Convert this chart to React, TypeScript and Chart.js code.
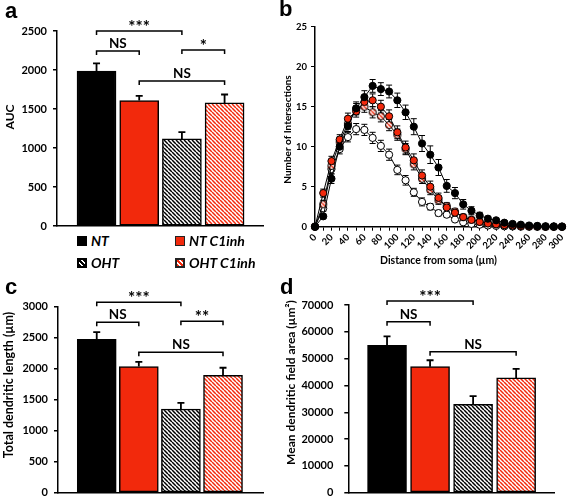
import React, { useEffect, useRef } from 'react';
import { Chart, registerables } from 'chart.js';

Chart.register(...registerables);

// ---------- data ----------
const GROUPS = ['NT', 'NT C1inh', 'OHT', 'OHT C1inh'];

const AUC_VALUES = [1985, 1608, 1116, 1578];
const AUC_ERRORS = [100, 60, 87, 108];
const LENGTH_VALUES = [2475, 2035, 1350, 1895];
const LENGTH_ERRORS = [115, 75, 100, 120];
const AREA_VALUES = [55000, 47000, 33000, 42800];
const AREA_ERRORS = [3300, 2400, 3000, 3400];

// [from group, to group, level, label]
const AUC_BRACKETS: [number, number, number, string][] = [
  [0, 2, 2500, '***'], [0, 1, 2244, 'NS'], [2, 3, 2256, '*'], [1, 3, 1859, 'NS'],
];
const LENGTH_BRACKETS: [number, number, number, string][] = [
  [0, 2, 3071, '***'], [0, 1, 2748, 'NS'], [2, 3, 2764, '**'], [1, 3, 2264, 'NS'],
];
const AREA_BRACKETS: [number, number, number, string][] = [
  [0, 2, 71500, '***'], [0, 1, 63770, 'NS'], [1, 3, 52580, 'NS'],
];

const DISTANCE = [0, 10, 20, 30, 40, 50, 60, 70, 80, 90, 100, 110, 120, 130, 140, 150, 160, 170, 180, 190, 200, 210, 220, 230, 240, 250, 260, 270, 280, 290, 300];
const SHOLL_NT = [0, 1.3, 6.0, 10.0, 12.6, 14.8, 16.2, 17.6, 17.2, 16.9, 15.8, 14.3, 12.5, 10.4, 9.0, 7.4, 5.1, 4.2, 2.8, 2.0, 1.4, 1.0, 0.8, 0.5, 0.35, 0.25, 0.15, 0.1, 0.05, 0.03, 0];
const SHOLL_NT_ERR = [0, 0.3, 0.6, 0.6, 0.7, 0.8, 0.8, 0.8, 0.8, 0.8, 0.9, 0.9, 1.0, 1.0, 1.1, 1.0, 0.8, 0.7, 0.6, 0.5, 0.4, 0.3, 0.25, 0.2, 0.15, 0.1, 0.1, 0.05, 0.05, 0.03, 0];
const SHOLL_NTC = [0, 4.2, 8.2, 10.9, 13.5, 14.4, 15.6, 15.8, 15.0, 13.8, 11.8, 9.9, 8.3, 6.4, 5.0, 3.6, 2.4, 1.75, 1.2, 0.85, 0.6, 0.4, 0.3, 0.2, 0.15, 0.1, 0.05, 0.03, 0, 0, 0];
const SHOLL_NTC_ERR = [0, 0.5, 0.6, 0.6, 0.7, 0.7, 0.8, 0.8, 0.8, 0.8, 0.8, 0.8, 0.8, 0.7, 0.7, 0.6, 0.5, 0.4, 0.35, 0.3, 0.25, 0.2, 0.15, 0.1, 0.1, 0.05, 0.05, 0.03, 0, 0, 0];
const SHOLL_OHT = [0, 2.3, 7.2, 9.7, 11.2, 12.2, 12.1, 11.1, 10.1, 9.0, 7.1, 5.8, 4.3, 3.1, 2.5, 1.7, 1.5, 0.9, 0.55, 0.35, 0.25, 0.15, 0.1, 0.05, 0.03, 0, 0, 0, 0, 0, 0];
const SHOLL_OHT_ERR = [0, 0.4, 0.6, 0.6, 0.6, 0.7, 0.7, 0.7, 0.7, 0.7, 0.6, 0.6, 0.5, 0.5, 0.4, 0.35, 0.3, 0.25, 0.2, 0.15, 0.1, 0.1, 0.05, 0.05, 0.03, 0, 0, 0, 0, 0, 0];
const SHOLL_OHTC = [0, 2.8, 7.6, 10.6, 12.9, 14.7, 15.0, 14.3, 13.8, 12.7, 11.5, 9.7, 7.8, 6.0, 4.6, 3.3, 2.6, 1.9, 1.2, 0.9, 0.6, 0.45, 0.3, 0.2, 0.15, 0.1, 0.05, 0.03, 0, 0, 0];
const SHOLL_OHTC_ERR = [0, 0.5, 0.6, 0.6, 0.7, 0.7, 0.7, 0.7, 0.7, 0.7, 0.7, 0.7, 0.7, 0.6, 0.6, 0.5, 0.4, 0.35, 0.3, 0.25, 0.2, 0.15, 0.1, 0.1, 0.05, 0.05, 0.03, 0, 0, 0, 0];

// ---------- style ----------
const RED = '#f2290c';
const FONT = 'Lato, "Open Sans", "DejaVu Sans", sans-serif';
const LETTER_FONT = '"Liberation Sans", Arial, sans-serif';

function hatch(color: string): CanvasPattern {
  const c = document.createElement('canvas');
  c.width = 4; c.height = 4;
  const g = c.getContext('2d')!;
  g.fillStyle = '#fff';
  g.fillRect(0, 0, 4, 4);
  g.strokeStyle = color;
  g.lineWidth = 1.5;
  g.beginPath();
  for (const o of [-4, 0, 4]) { g.moveTo(o, 0); g.lineTo(o + 4, 4); }
  g.stroke();
  return g.createPattern(c, 'repeat')!;
}

function dotImage(fill: string | CanvasPattern): HTMLCanvasElement {
  const c = document.createElement('canvas');
  c.width = 10; c.height = 10;
  const g = c.getContext('2d')!;
  g.beginPath();
  g.arc(5, 5, 3.6, 0, Math.PI * 2);
  g.fillStyle = fill as any;
  g.fill();
  g.strokeStyle = '#000';
  g.lineWidth = 1;
  g.stroke();
  return c;
}

function yTitlePlugin(text: string, x: number, y: number, size: number) {
  return {
    id: 'ytitle',
    afterDraw(chart: any) {
      const ctx = chart.ctx;
      ctx.save();
      ctx.translate(x, y);
      ctx.rotate(-Math.PI / 2);
      ctx.font = `bold ${size}px ${FONT}`;
      ctx.fillStyle = '#000';
      ctx.textAlign = 'center';
      ctx.textBaseline = 'middle';
      ctx.fillText(text, 0, 0);
      ctx.restore();
    },
  };
}

function bracketPlugin(items: [number, number, number, string][]) {
  return {
    id: 'brackets',
    afterDraw(chart: any) {
      const { ctx } = chart;
      const xs = chart.scales.x, ys = chart.scales.y;
      ctx.save();
      ctx.strokeStyle = '#000';
      ctx.fillStyle = '#000';
      ctx.lineWidth = 1.5;
      ctx.textAlign = 'center';
      ctx.textBaseline = 'alphabetic';
      for (const [a, b, v, label] of items) {
        const x0 = xs.getPixelForValue(a), x1 = xs.getPixelForValue(b), yy = ys.getPixelForValue(v);
        ctx.beginPath();
        ctx.moveTo(x0, yy + 4); ctx.lineTo(x0, yy); ctx.lineTo(x1, yy); ctx.lineTo(x1, yy + 4);
        ctx.stroke();
        const stars = label.startsWith('*');
        ctx.font = stars ? `bold 17px ${FONT}` : `bold 13.5px ${FONT}`;
        ctx.fillText(label, (x0 + x1) / 2, stars ? yy + 2 : yy - 3);
      }
      ctx.restore();
    },
  };
}

const barErrorPlugin = {
  id: 'barErrors',
  afterDatasetsDraw(chart: any) {
    const ctx = chart.ctx; const ys = chart.scales.y;
    chart.data.datasets.forEach((ds: any, di: number) => {
      const meta = chart.getDatasetMeta(di);
      (ds.errors || []).forEach((e: number, i: number) => {
        const el = meta.data[i]; const v = ds.data[i].y;
        const y0 = ys.getPixelForValue(v), y1 = ys.getPixelForValue(v + e);
        ctx.save();
        ctx.strokeStyle = '#000'; ctx.lineWidth = 1.8;
        ctx.beginPath();
        ctx.moveTo(el.x, y0); ctx.lineTo(el.x, y1);
        ctx.moveTo(el.x - 3.5, y1); ctx.lineTo(el.x + 3.5, y1);
        ctx.stroke();
        ctx.restore();
      });
    });
  },
};

const lineErrorPlugin = {
  id: 'lineErrors',
  beforeDatasetsDraw(chart: any) {
    const ctx = chart.ctx; const ys = chart.scales.y;
    ctx.save();
    ctx.strokeStyle = '#000'; ctx.lineWidth = 1;
    chart.data.datasets.forEach((ds: any, di: number) => {
      const meta = chart.getDatasetMeta(di);
      (ds.errors || []).forEach((e: number, i: number) => {
        if (!e) return;
        const el = meta.data[i]; const v = ds.data[i].y;
        const yH = ys.getPixelForValue(v + e), yL = ys.getPixelForValue(v - e);
        ctx.beginPath();
        ctx.moveTo(el.x, yL); ctx.lineTo(el.x, yH);
        ctx.moveTo(el.x - 3, yH); ctx.lineTo(el.x + 3, yH);
        ctx.moveTo(el.x - 3, yL); ctx.lineTo(el.x + 3, yL);
        ctx.stroke();
      });
    });
    ctx.restore();
  },
};

type Geom = {
  x: number; y: number; w: number; h: number;
  aL: number; aR: number; aT: number; aB: number;
  xMin: number; xMax: number; tickPad: number;
  tX: number; tY: number; tSize: number;
};

function BarPanel(props: {
  values: number[]; errors: number[]; brackets: [number, number, number, string][];
  yMax: number; yStep: number; title: string; g: Geom;
}) {
  const ref = useRef<HTMLCanvasElement>(null);
  useEffect(() => {
    const { values, errors, brackets, yMax, yStep, title, g } = props;
    const fills = ['#000', RED, hatch('#000'), hatch(RED)];
    const chart = new Chart(ref.current!, {
      type: 'bar',
      data: {
        labels: GROUPS,
        datasets: [{
          data: values.map((v, i) => ({ x: i, y: v })),
          errors,
          backgroundColor: fills,
          borderColor: '#000',
          borderWidth: 1.5,
          borderSkipped: false,
          barThickness: 39,
        } as any],
      },
      options: {
        animation: false,
        responsive: false,
        maintainAspectRatio: false,
        layout: { padding: { top: g.aT, left: 0, right: g.w - g.aR, bottom: g.h - g.aB } },
        plugins: { legend: { display: false }, tooltip: { enabled: false } },
        scales: {
          x: {
            type: 'linear', min: g.xMin, max: g.xMax, offset: false,
            ticks: { display: false },
            grid: { display: false },
            border: { display: true, color: '#000', width: 1.5 },
            afterFit: (s: any) => { s.height = 0; s.paddingLeft = 0; s.paddingRight = 0; },
          },
          y: {
            min: 0, max: yMax,
            ticks: {
              stepSize: yStep, color: '#000', padding: g.tickPad,
              font: { family: FONT, weight: 'bold', size: 11 },
              callback: (v: any) => String(v),
            },
            grid: { drawOnChartArea: false, tickLength: 4, color: '#000', lineWidth: 1.5 },
            border: { color: '#000', width: 1.5 },
            afterFit: (s: any) => { s.width = g.aL; s.paddingTop = 0; s.paddingBottom = 0; },
          },
        } as any,
      },
      plugins: [barErrorPlugin, bracketPlugin(brackets), yTitlePlugin(title, g.tX, g.tY, g.tSize)],
    });
    return () => chart.destroy();
  }, []);
  const g = props.g;
  return <canvas ref={ref} width={g.w} height={g.h}
    style={{ position: 'absolute', left: g.x, top: g.y, width: g.w, height: g.h }} />;
}

function ShollPanel() {
  const ref = useRef<HTMLCanvasElement>(null);
  const W = 287, H = 270, XH = 40;
  useEffect(() => {
    const pts = (arr: number[]) => arr.map((v, i) => ({ x: DISTANCE[i], y: v }));
    const base = { borderColor: '#000', borderWidth: 1, pointRadius: 3.6, pointBorderColor: '#000', pointBorderWidth: 1, clip: false as any, tension: 0 };
    const tickFont = { family: FONT, weight: 'bold' as any, size: 9.5 };
    const chart = new Chart(ref.current!, {
      type: 'line',
      data: {
        datasets: [
          { ...base, label: 'NT', data: pts(SHOLL_NT), errors: SHOLL_NT_ERR, pointBackgroundColor: '#000' },
          { ...base, label: 'NT C1inh', data: pts(SHOLL_NTC), errors: SHOLL_NTC_ERR, pointBackgroundColor: RED },
          { ...base, label: 'OHT C1inh', data: pts(SHOLL_OHTC), errors: SHOLL_OHTC_ERR, pointStyle: dotImage(hatch(RED)) },
          { ...base, label: 'OHT', data: pts(SHOLL_OHT), errors: SHOLL_OHT_ERR, pointBackgroundColor: '#fff' },
        ] as any,
      },
      options: {
        animation: false,
        responsive: false,
        maintainAspectRatio: false,
        layout: { padding: { top: 26.7, left: 0, right: W - 282.7, bottom: H - 226.7 - XH } },
        plugins: { legend: { display: false }, tooltip: { enabled: false } },
        scales: {
          x: {
            type: 'linear', min: 0, max: 300,
            ticks: {
              stepSize: 10, autoSkip: false, minRotation: 45, maxRotation: 45, padding: 1,
              color: '#000', font: tickFont,
              callback: (v: any) => (Number(v) % 20 === 0 ? String(v) : ''),
            },
            grid: { drawOnChartArea: false, tickLength: 4, color: '#000', lineWidth: 1 },
            border: { color: '#000', width: 1.5 },
            title: { display: true, text: 'Distance from soma (µm)', color: '#000', padding: { top: 0, bottom: 0 }, font: { family: FONT, weight: 'bold', size: 10.5 } },
            afterFit: (s: any) => { s.height = XH; s.paddingLeft = 0; s.paddingRight = 0; },
          },
          y: {
            min: 0, max: 25,
            ticks: { stepSize: 5, color: '#000', padding: 4, font: tickFont },
            grid: { drawOnChartArea: false, tickLength: 4, color: '#000', lineWidth: 1 },
            border: { color: '#000', width: 1.5 },
            afterFit: (s: any) => { s.width = 35; s.paddingTop = 0; s.paddingBottom = 0; },
          },
        } as any,
      },
      plugins: [lineErrorPlugin, yTitlePlugin('Number of Intersections', 7.5, 129.5, 10)],
    });
    return () => chart.destroy();
  }, []);
  return <canvas ref={ref} width={W} height={H}
    style={{ position: 'absolute', left: 280, top: 0, width: W, height: H }} />;
}

const LEGEND_ITEMS = [
  { label: 'NT', left: 77, top: 235, bg: '#000', border: '1px solid #000' },
  { label: 'NT C1inh', left: 175, top: 235, bg: RED, border: '1.5px solid #222' },
  { label: 'OHT', left: 77, top: 257, bg: 'repeating-linear-gradient(45deg, #000 0 1.5px, #fff 1.5px 3.5px)', border: '2px solid #000' },
  { label: 'OHT C1inh', left: 175, top: 257, bg: `repeating-linear-gradient(45deg, ${RED} 0 1.5px, #fff 1.5px 3.5px)`, border: '2px solid #222' },
];

function Letter({ t, left, top }: { t: string; left: number; top: number }) {
  return <div style={{ position: 'absolute', left, top, fontFamily: LETTER_FONT, fontWeight: 'bold', fontSize: 22, lineHeight: '22px' }}>{t}</div>;
}

export default function App() {
  const gA: Geom = { x: 0, y: 0, w: 280, h: 232, aL: 57, aR: 263, aT: 31, aB: 226, xMin: -0.926, xMax: 3.9, tickPad: 6, tX: 10, tY: 117, tSize: 12 };
  const gC: Geom = { x: 0, y: 270, w: 280, h: 230, aL: 58, aR: 263, aT: 36.7, aB: 222.7, xMin: -0.92, xMax: 3.95, tickPad: 6, tX: 9, tY: 115, tSize: 12.5 };
  const gD: Geom = { x: 280, y: 270, w: 287, h: 230, aL: 68.3, aR: 274, aT: 35, aB: 222.7, xMin: -0.9, xMax: 3.88, tickPad: 11, tX: 11, tY: 112.5, tSize: 12 };
  return (
    <div style={{ position: 'absolute', left: 0, top: 0, width: 567, height: 500, background: '#fff', overflow: 'hidden' }}>
      <BarPanel values={AUC_VALUES} errors={AUC_ERRORS} brackets={AUC_BRACKETS} yMax={2500} yStep={500} title="AUC" g={gA} />
      <ShollPanel />
      <BarPanel values={LENGTH_VALUES} errors={LENGTH_ERRORS} brackets={LENGTH_BRACKETS} yMax={3000} yStep={500} title="Total dendritic length (µm)" g={gC} />
      <BarPanel values={AREA_VALUES} errors={AREA_ERRORS} brackets={AREA_BRACKETS} yMax={70000} yStep={10000} title="Mean dendritic field area (µm²)" g={gD} />
      {LEGEND_ITEMS.map((it) => (
        <div key={it.label} style={{ position: 'absolute', left: it.left, top: it.top, height: 12, display: 'flex', alignItems: 'center' }}>
          <div style={{ width: 10, height: 10, boxSizing: 'border-box', background: it.bg, border: it.border }} />
          <span style={{ marginLeft: 4, fontFamily: FONT, fontWeight: 'bold', fontStyle: 'italic', fontSize: 14, lineHeight: '12px' }}>{it.label}</span>
        </div>
      ))}
      <Letter t="a" left={5} top={0} />
      <Letter t="b" left={279} top={-2} />
      <Letter t="c" left={5} top={276} />
      <Letter t="d" left={280} top={276} />
    </div>
  );
}
